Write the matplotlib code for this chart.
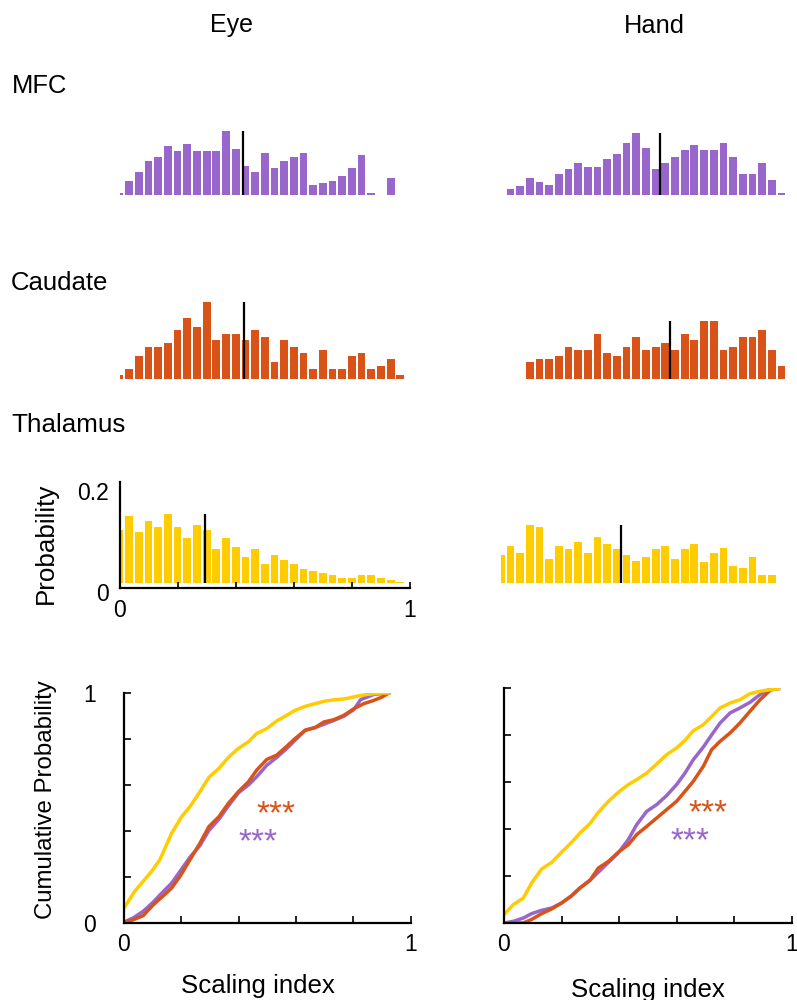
import numpy as np
import matplotlib
matplotlib.use('Agg')
import matplotlib.pyplot as pl

W, H = 797, 1000
purple, orange, yellow = '#9966CC', '#D95319', '#FFCC00'

# histogram bins (centres at k/30), probability per bin
bin_centres = np.linspace(0, 1, 31)
mfc_eye = [0.003, 0.028, 0.046, 0.067, 0.075, 0.096, 0.088, 0.100, 0.088, 0.088, 0.088, 0.126, 0.092, 0.058, 0.046, 0.084,
           0.054, 0.067, 0.075, 0.084, 0.020, 0.024, 0.028, 0.037, 0.054, 0.080, 0.003, 0.0, 0.033, 0.0, 0.0]
mfc_hand = [0.0, 0.012, 0.017, 0.034, 0.025, 0.020, 0.042, 0.051, 0.063, 0.055, 0.055, 0.072, 0.081, 0.102, 0.123, 0.093,
            0.051, 0.063, 0.076, 0.089, 0.098, 0.089, 0.089, 0.102, 0.076, 0.042, 0.042, 0.063, 0.029, 0.004, 0.0]
caudate_eye = [0.007, 0.019, 0.045, 0.063, 0.063, 0.070, 0.096, 0.121, 0.102, 0.152, 0.077, 0.089, 0.089, 0.077, 0.096, 0.083,
               0.032, 0.077, 0.063, 0.051, 0.019, 0.057, 0.019, 0.019, 0.045, 0.051, 0.019, 0.026, 0.038, 0.007, 0.0]
caudate_hand = [0.0, 0.0, 0.0, 0.032, 0.038, 0.038, 0.045, 0.063, 0.057, 0.057, 0.089, 0.051, 0.045, 0.063, 0.083, 0.057,
                0.063, 0.070, 0.057, 0.089, 0.077, 0.114, 0.114, 0.057, 0.063, 0.083, 0.083, 0.096, 0.057, 0.026, 0.0]
thal_eye = [0.104, 0.133, 0.100, 0.122, 0.111, 0.137, 0.111, 0.089, 0.115, 0.104, 0.067, 0.089, 0.071, 0.052, 0.067, 0.038,
            0.055, 0.045, 0.038, 0.027, 0.023, 0.019, 0.016, 0.009, 0.009, 0.016, 0.016, 0.009, 0.005, 0.001, 0.0]
thal_hand = [0.055, 0.074, 0.059, 0.115, 0.111, 0.048, 0.074, 0.067, 0.081, 0.059, 0.091, 0.078, 0.067, 0.055, 0.044, 0.051,
             0.067, 0.074, 0.048, 0.067, 0.078, 0.041, 0.059, 0.070, 0.034, 0.030, 0.051, 0.015, 0.015, 0.0, 0.0]
medians = {'mfc_eye': 0.425, 'mfc_hand': 0.549, 'caudate_eye': 0.428, 'caudate_hand': 0.582,
           'thal_eye': 0.295, 'thal_hand': 0.414}

# cumulative curves (scaling index, cumulative probability)
eye_thal_x = [0, 0.037, 0.096, 0.125, 0.166, 0.201, 0.230, 0.265, 0.296, 0.331, 0.364, 0.399, 0.434, 0.463, 0.498, 0.533,
              0.562, 0.597, 0.632, 0.667, 0.702, 0.737, 0.772, 0.813, 0.848, 0.895, 0.924]
eye_thal_y = [0.065, 0.137, 0.224, 0.275, 0.390, 0.462, 0.506, 0.571, 0.633, 0.672, 0.720, 0.759, 0.788, 0.824, 0.845, 0.879,
              0.899, 0.925, 0.942, 0.954, 0.965, 0.971, 0.975, 0.986, 0.994, 1.0, 1.0]
eye_mfc_x = [0, 0.032, 0.067, 0.102, 0.137, 0.166, 0.195, 0.230, 0.265, 0.296, 0.331, 0.364, 0.399, 0.434, 0.463, 0.498,
             0.533, 0.568, 0.597, 0.632, 0.667, 0.697, 0.732, 0.767, 0.802, 0.825, 0.872, 0.924]
eye_mfc_y = [0.004, 0.022, 0.051, 0.091, 0.137, 0.173, 0.224, 0.286, 0.337, 0.402, 0.451, 0.509, 0.566, 0.600, 0.636, 0.686,
             0.720, 0.759, 0.795, 0.838, 0.850, 0.864, 0.881, 0.899, 0.928, 0.971, 0.994, 1.0]
eye_caud_x = [0, 0.032, 0.067, 0.102, 0.137, 0.166, 0.195, 0.230, 0.265, 0.296, 0.331, 0.364, 0.399, 0.434, 0.463, 0.498,
              0.533, 0.568, 0.597, 0.632, 0.667, 0.697, 0.732, 0.767, 0.802, 0.837, 0.872, 0.901, 0.924]
eye_caud_y = [0.004, 0.014, 0.032, 0.079, 0.118, 0.152, 0.202, 0.275, 0.347, 0.419, 0.462, 0.520, 0.571, 0.614, 0.665, 0.711,
              0.730, 0.769, 0.802, 0.838, 0.850, 0.874, 0.884, 0.903, 0.932, 0.954, 0.968, 0.983, 1.0]
hand_x = [0, 0.032, 0.067, 0.096, 0.131, 0.166, 0.200, 0.235, 0.264, 0.299, 0.328, 0.363, 0.397, 0.432, 0.461, 0.496,
          0.531, 0.565, 0.600, 0.629, 0.658, 0.693, 0.722, 0.751, 0.786, 0.820, 0.855, 0.890, 0.925, 0.954]
hand_thal_y = [0.035, 0.078, 0.106, 0.170, 0.230, 0.258, 0.301, 0.343, 0.383, 0.423, 0.471, 0.518, 0.556, 0.589, 0.610, 0.638,
               0.677, 0.716, 0.745, 0.777, 0.818, 0.844, 0.879, 0.915, 0.936, 0.950, 0.976, 0.986, 0.993, 0.997]
hand_mfc_y = [0.0, 0.007, 0.021, 0.040, 0.054, 0.064, 0.085, 0.116, 0.149, 0.182, 0.216, 0.258, 0.298, 0.355, 0.418, 0.475,
              0.504, 0.542, 0.589, 0.638, 0.695, 0.749, 0.801, 0.851, 0.894, 0.915, 0.939, 0.972, 0.996, 0.997]
hand_caud_y = [0.0, 0.0, 0.0, 0.015, 0.040, 0.060, 0.085, 0.116, 0.149, 0.182, 0.234, 0.262, 0.301, 0.333, 0.376, 0.411,
               0.447, 0.482, 0.518, 0.560, 0.603, 0.667, 0.738, 0.773, 0.809, 0.851, 0.901, 0.950, 0.990, 1.0]

pl.rcParams['font.family'] = ['Liberation Sans', 'DejaVu Sans']
pl.rcParams['axes.linewidth'] = 1.6
fig = pl.figure(figsize=(W/100, H/100), dpi=100)

def px_axes(left, top, width, height):
    return fig.add_axes([left/W, 1-(top+height)/H, width/W, height/H])

def px_text(x, y, s, **kw):
    fig.text(x/W, 1-y/H, s, **kw)

def hist_panel(ax, vals, med, color):
    ax.bar(bin_centres, vals, width=0.8/30, color=color, lw=0)
    ax.vlines(med, 0, max(vals), color='k', lw=1.6)
    ax.set_xlim(0, 1)
    ax.set_ylim(-0.01, 0.2)
    ax.axis('off')
    return ax

eye_l, hand_l, hw = 119.5, 500.7, 290.5
hist_panel(px_axes(eye_l, 94, hw, 106), mfc_eye, medians['mfc_eye'], purple)
hist_panel(px_axes(hand_l, 94, hw, 106), mfc_hand, medians['mfc_hand'], purple)
hist_panel(px_axes(eye_l, 277.7, hw, 106), caudate_eye, medians['caudate_eye'], orange)
hist_panel(px_axes(hand_l, 277.7, hw, 106), caudate_hand, medians['caudate_hand'], orange)
hist_panel(px_axes(hand_l, 482, hw, 106), thal_hand, medians['thal_hand'], yellow)

tick_fs = 16.5
ax = hist_panel(px_axes(eye_l, 482, hw, 106), thal_eye, medians['thal_eye'], yellow)
ax.axis('on')
for s in ['top', 'right']:
    ax.spines[s].set_visible(False)
ax.set_xticks([0, 0.2, 0.4, 0.6, 0.8, 1])
ax.set_xticklabels(['0', '', '', '', '', '1'])
ax.set_yticks([0, 0.2])
ax.set_yticklabels(['0', '0.2'])
ax.tick_params(axis='x', direction='in', length=4, width=1.2, pad=8, labelsize=tick_fs)
ax.tick_params(axis='y', length=0, pad=8, labelsize=tick_fs)
for lab in ax.get_yticklabels():
    lab.set_va('top')

def cum_panel(ax, xs, ys_list, ylabels):
    for x, y, c in zip(xs, ys_list, [purple, orange, yellow]):
        ax.plot(x, y, color=c, lw=2.5, solid_joinstyle='round')
    ax.set_xlim(0, 1)
    ax.set_ylim(0, 1)
    for s in ['top', 'right']:
        ax.spines[s].set_visible(False)
    ticks = [0, 0.2, 0.4, 0.6, 0.8, 1]
    ax.set_xticks(ticks)
    ax.set_xticklabels(['0', '', '', '', '', '1'])
    ax.set_yticks(ticks)
    ax.set_yticklabels(['0', '', '', '', '', '1'] if ylabels else [])
    ax.tick_params(direction='in', length=5, width=1.2, pad=7, labelsize=tick_fs)
    ax.tick_params(axis='y', pad=20)

cl = px_axes(124, 693, 286.7, 230)
cum_panel(cl, [eye_mfc_x, eye_caud_x, eye_thal_x], [eye_mfc_y, eye_caud_y, eye_thal_y], True)
cr = px_axes(504, 688, 287.7, 235)
cum_panel(cr, [hand_x, hand_x, hand_x], [hand_mfc_y, hand_caud_y, hand_thal_y], False)

# significance stars
px_text(276, 823, '***', color=orange, fontsize=24, ha='center', va='baseline')
px_text(258, 851, '***', color=purple, fontsize=24, ha='center', va='baseline')
px_text(708, 822, '***', color=orange, fontsize=24, ha='center', va='baseline')
px_text(690, 850, '***', color=purple, fontsize=24, ha='center', va='baseline')

px_text(232, 32, 'Eye', ha='center', va='baseline', fontsize=18)
px_text(654, 33, 'Hand', ha='center', va='baseline', fontsize=18.3)
px_text(12, 93, 'MFC', ha='left', va='baseline', fontsize=18.4)
px_text(11, 290, 'Caudate', ha='left', va='baseline', fontsize=18.5)
px_text(11, 431.5, 'Thalamus', ha='left', va='baseline', fontsize=18.7)
px_text(46, 543, 'Probability', rotation=90, ha='center', va='center', fontsize=18.7)
px_text(46, 800, 'Cumulative Probability', rotation=90, ha='center', va='center', fontsize=17.3)
px_text(258, 992.5, 'Scaling index', ha='center', va='baseline', fontsize=18.6)
px_text(648, 997, 'Scaling index', ha='center', va='baseline', fontsize=18.6)

fig.savefig('out.png', dpi=100)
